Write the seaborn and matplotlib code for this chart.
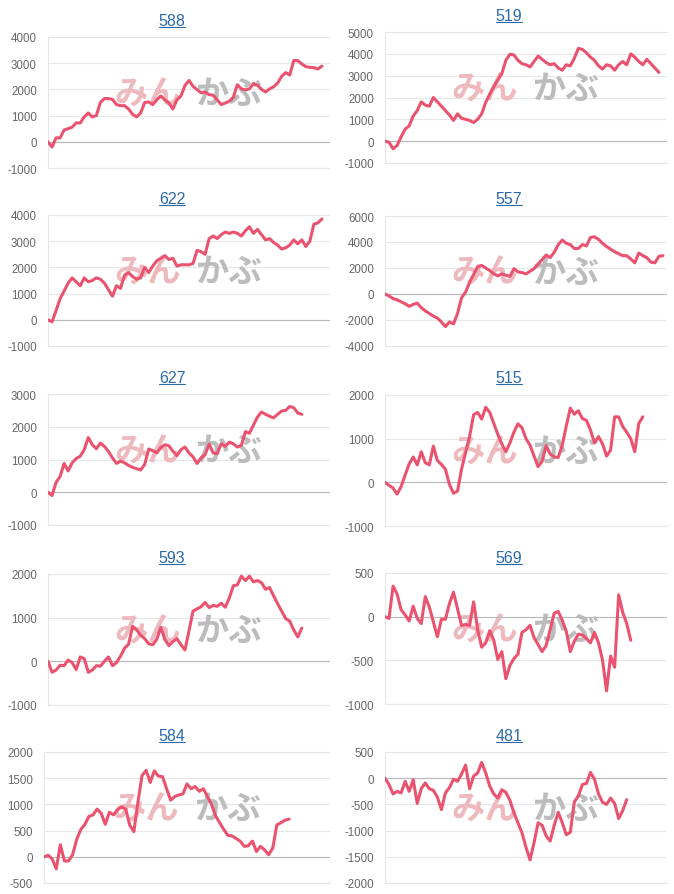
import numpy as np
import pandas as pd
import matplotlib
matplotlib.use("Agg")
import matplotlib.pyplot as plt
import seaborn as sns
from matplotlib.lines import Line2D

# ---------------- data ----------------
titles = ["588", "519", "622", "557", "627", "515", "593", "569", "584", "481"]

s588 = [0, -200, 150, 150, 450, 500, 560, 720, 720, 950,
        1100, 950, 1000, 1500, 1650, 1650, 1620, 1420, 1380, 1380,
        1250, 1050, 950, 1100, 1500, 1520, 1420, 1600, 1750, 1600,
        1480, 1250, 1600, 1750, 2150, 2340, 2120, 1990, 1870, 1900,
        1800, 1780, 1600, 1420, 1480, 1550, 1700, 2180, 2020, 1980,
        2020, 2220, 2160, 2000, 1900, 2020, 2100, 2240, 2500, 2640,
        2550, 3100, 3100, 2970, 2870, 2840, 2830, 2780, 2890]
s519 = [0, -50, -350, -200, 200, 550, 700, 1150, 1400, 1800,
        1650, 1600, 2000, 1800, 1600, 1400, 1200, 950, 1250, 1050,
        1000, 950, 850, 1000, 1250, 1780, 2150, 2500, 2800, 3100,
        3700, 3980, 3950, 3700, 3550, 3500, 3400, 3650, 3900, 3750,
        3600, 3500, 3550, 3350, 3250, 3500, 3450, 3800, 4250, 4200,
        4050, 3850, 3700, 3450, 3300, 3500, 3450, 3250, 3500, 3650,
        3500, 4000, 3850, 3650, 3500, 3750, 3550, 3350, 3150]
s622 = [0, -80, 350, 800, 1100, 1400, 1600, 1450, 1300, 1600,
        1450, 1500, 1600, 1550, 1400, 1150, 900, 1300, 1200, 1700,
        1800, 1650, 1550, 1600, 2000, 1800, 2050, 2250, 2350, 2450,
        2300, 2350, 2050, 2100, 2100, 2100, 2150, 2650, 2600, 2500,
        3100, 3200, 3100, 3250, 3350, 3300, 3350, 3300, 3200, 3400,
        3550, 3300, 3450, 3250, 3050, 3100, 2950, 2850, 2700, 2750,
        2850, 3050, 2900, 3050, 2800, 3000, 3650, 3700, 3850]
s557 = [0, -150, -350, -450, -600, -750, -950, -800, -700, -1050,
        -1300, -1500, -1700, -1850, -2150, -2500, -2150, -2300, -1500, -300,
        150, 900, 1500, 2100, 2200, 2000, 1800, 1550, 1400, 1550,
        1450, 1350, 1950, 1700, 1650, 1550, 1750, 1950, 2300, 2650,
        3000, 2800, 3200, 3800, 4150, 3900, 3800, 3500, 3500, 3800,
        3700, 4350, 4400, 4200, 3900, 3650, 3450, 3250, 3100, 2950,
        2950, 2700, 2400, 3150, 2950, 2800, 2450, 2400, 2900, 2950]
s627 = [0, -100, 300, 480, 880, 650, 900, 1030, 1100, 1300,
        1670, 1450, 1330, 1500, 1400, 1250, 1050, 880, 950, 900,
        820, 760, 720, 680, 850, 1320, 1270, 1200, 1370, 1450,
        1420, 1250, 1120, 1300, 1380, 1200, 1080, 880, 1050, 1150,
        1470, 1200, 1180, 1480, 1400, 1530, 1480, 1380, 1430, 1850,
        1800, 2050, 2300, 2450, 2380, 2320, 2270, 2380, 2480, 2500,
        2620, 2580, 2420, 2380]
s515 = [0, -70, -130, -270, -100, 170, 420, 580, 400, 700,
        450, 400, 830, 500, 410, 300, -50, -250, -200, 300,
        680, 1050, 1550, 1600, 1450, 1720, 1600, 1350, 1100, 880,
        700, 900, 1150, 1340, 1250, 1000, 850, 600, 360, 480,
        840, 650, 580, 570, 850, 1290, 1700, 1560, 1640, 1460,
        1420, 1200, 900, 1050, 880, 600, 740, 1500, 1500, 1280,
        1150, 1000, 700, 1350, 1500]
s593 = [0, -250, -200, -90, -100, 30, -30, -190, 100, 60,
        -250, -200, -100, -110, 0, 100, -100, -30, 120, 300,
        390, 800, 720, 600, 520, 400, 380, 500, 780, 500,
        360, 450, 520, 380, 260, 700, 1150, 1200, 1250, 1350,
        1230, 1280, 1260, 1330, 1240, 1450, 1730, 1750, 1950, 1850,
        1950, 1820, 1850, 1800, 1650, 1690, 1500, 1320, 1150, 980,
        920, 720, 560, 760]
s569 = [0, -20, 350, 260, 80, 20, -50, 120, -20, -80,
        230, 110, -60, -230, -30, -30, 150, 280, 90, -100,
        -90, -100, 170, -150, -350, -300, -160, -270, -490, -400,
        -710, -560, -480, -430, -180, -150, -100, -240, -320, -400,
        -330, -150, 40, 60, -40, -170, -400, -280, -200, -210,
        -250, -300, -180, -300, -500, -850, -450, -580, 250, 50,
        -80, -270]
s584 = [0, 30, -40, -230, 230, -80, -80, 40, 330, 520,
        620, 770, 800, 910, 830, 620, 850, 800, 900, 950,
        910, 600, 480, 1050, 1550, 1650, 1420, 1640, 1540, 1530,
        1300, 1080, 1150, 1180, 1200, 1390, 1300, 1340, 1250, 1300,
        1150, 1000, 780, 650, 520, 410, 400, 350, 300, 200,
        210, 300, 100, 200, 130, 40, 170, 610, 650, 700,
        720]
s481 = [0, -120, -300, -250, -280, -60, -250, -30, -480, -200,
        -90, -200, -230, -360, -600, -280, -180, -20, -60, 80,
        250, -200, 40, 100, 300, 100, -150, -300, -380, -220,
        -270, -420, -660, -850, -1040, -1320, -1560, -1230, -850, -900,
        -1100, -1200, -900, -650, -850, -1080, -1030, -450, -340, -120,
        -100, 110, -20, -300, -460, -500, -380, -480, -770, -620,
        -410]

yt588 = [-1000, 0, 1000, 2000, 3000, 4000]
yt519 = [-1000, 0, 1000, 2000, 3000, 4000, 5000]
yt622 = [-1000, 0, 1000, 2000, 3000, 4000]
yt557 = [-4000, -2000, 0, 2000, 4000, 6000]
yt627 = [-1000, 0, 1000, 2000, 3000]
yt515 = [-1000, 0, 1000, 2000]
yt593 = [-1000, 0, 1000, 2000]
yt569 = [-1000, -500, 0, 500]
yt584 = [-500, 0, 500, 1000, 1500, 2000]
yt481 = [-2000, -1500, -1000, -500, 0, 500]

series = [s588, s519, s622, s557, s627, s515, s593, s569, s584, s481]
yticks = [yt588, yt519, yt622, yt557, yt627, yt515, yt593, yt569, yt584, yt481]
n_slots = 71  # category slots on the x axis

# ---------------- style ----------------
sns.set_style("white")
plt.rcParams["font.family"] = ["Liberation Sans", "DejaVu Sans"]

W, H = 674, 895
fig = plt.figure(figsize=(W / 100, H / 100), dpi=100)

line_color = "#e9536f"
grid_color = "#e6e6e6"
title_color = "#2a6aa8"

# pixel boxes: left, top, right, bottom
boxes = [(48, 38, 330, 169), (385, 33, 667, 164),
         (48, 216, 330, 347), (385, 217, 667, 347),
         (48, 395, 330, 526), (385, 396, 667, 527),
         (48, 575, 330, 706), (385, 574, 667, 705),
         (44, 753, 330, 884), (385, 753, 667, 884)]
title_x = [172, 509] * 5
title_base = [26, 21, 204, 204, 383, 383, 563, 563, 741, 741]

title_texts = []
for i, (name, vals, yt) in enumerate(zip(titles, series, yticks)):
    l, t, r, b = boxes[i]
    ax = fig.add_axes([l / W, 1 - b / H, (r - l) / W, (b - t) / H])
    df = pd.DataFrame({"x": np.arange(len(vals)), "y": vals})
    # watermark
    ax.text(0.355, 0.565, "みん", transform=ax.transAxes, ha="center", va="center",
            fontsize=24, fontweight="bold", color="#eeb9bd",
            family=["Noto Sans CJK JP"], zorder=1)
    ax.text(0.64, 0.565, "かぶ", transform=ax.transAxes, ha="center", va="center",
            fontsize=24, fontweight="bold", color="#bcbcbc",
            family=["Noto Sans CJK JP"], zorder=1)
    ax.axhline(0, color="#b8b8b8", lw=0.8, zorder=2)
    sns.lineplot(data=df, x="x", y="y", ax=ax, color=line_color, linewidth=2.2,
                 zorder=3)
    ax.set_xlim(0, n_slots - 1)
    ax.set_ylim(yt[0], yt[-1])
    ax.set_yticks(yt)
    ax.set_yticklabels([str(v) for v in yt])
    ax.set_xticks([])
    ax.set_xlabel("")
    ax.set_ylabel("")
    ax.yaxis.grid(True, color=grid_color, lw=0.8, zorder=0)
    ax.set_axisbelow(True)
    for s in ["top", "bottom"]:
        ax.spines[s].set_color(grid_color)
        ax.spines[s].set_linewidth(0.8)
    ax.spines["left"].set_color(grid_color)
    ax.spines["left"].set_linewidth(0.8)
    ax.spines["right"].set_visible(False)
    ax.tick_params(axis="y", length=6.5, width=0.8, color=grid_color, pad=1.5,
                   labelsize=8.3, labelcolor="#666666")
    ax.patch.set_alpha(0)
    tt = fig.text(title_x[i] / W, 1 - title_base[i] / H, name, ha="center",
                  va="baseline", fontsize=11.5, color=title_color)
    title_texts.append((tt, title_base[i]))

fig.canvas.draw()
rend = fig.canvas.get_renderer()
for tt, base in title_texts:
    bb = tt.get_window_extent(rend)
    yl = 1 - (base + 1.5) / H
    fig.lines.append(Line2D([bb.x0 / W, bb.x1 / W], [yl, yl], transform=fig.transFigure,
                            color=title_color, lw=0.8))

fig.savefig("out.png", dpi=100)
